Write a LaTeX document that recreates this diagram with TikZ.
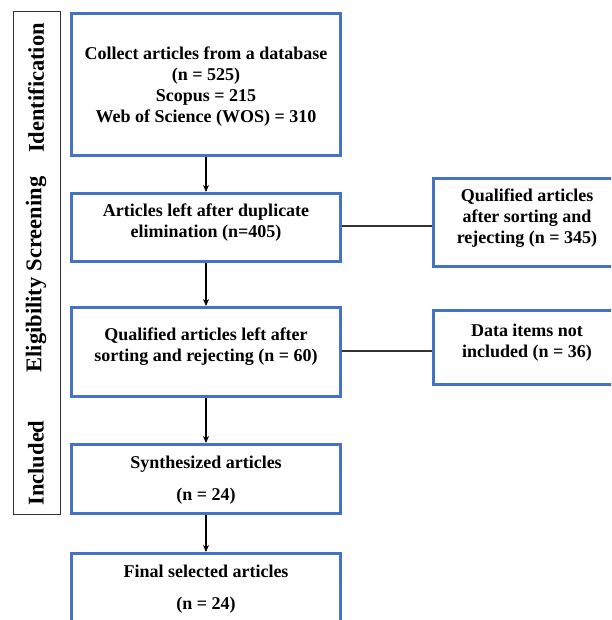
\documentclass[tikz,border=0pt]{standalone}
\usepackage{fontspec}
\setmainfont{Liberation Serif}
\usetikzlibrary{arrows.meta,calc}
\definecolor{boxblue}{HTML}{4472C4}
\begin{document}
\begin{tikzpicture}[x=1pt,y=-1pt,
  bluebox/.style={draw=boxblue,line width=3pt,fill=white,inner sep=0pt},
  boxtext/.style={align=center,inner sep=0pt,font=\fontsize{18}{21}\selectfont\bfseries},
  phasebox/.style={draw=black!80,line width=1.2pt,inner sep=0pt},
  phaselabel/.style={rotate=90,font=\fontsize{22.5}{26}\selectfont\bfseries,inner sep=0pt},
  flowarrow/.style={draw=black,line width=1.1pt,-{Stealth[length=7pt,width=6pt]}},
  joinline/.style={draw=black!80,line width=1.1pt}]
\useasboundingbox (0,0) rectangle (611,620);
\clip (0,0) rectangle (611,620);
\fill[white] (0,0) rectangle (611,620);
% phase column
\node[phasebox,minimum width=47pt,minimum height=503pt] (phase) at (37,263) {};
\node[phaselabel] (lid) at (36,88) {Identification};
\node[phaselabel] (lsc) at (36,224) {Screening};
\node[phaselabel] (lel) at (36,325) {Eligibility};
\node[phaselabel] (lin) at (36,463) {Included};
% main boxes
\node[bluebox,minimum width=269pt,minimum height=142pt,
  label={[boxtext,yshift=-2pt]center:{Collect articles from a database\\(n = 525)\\Scopus = 215\\Web of Science (WOS) = 310}}]
  (b1) at (206,84.5) {};
\node[bluebox,minimum width=269pt,minimum height=68pt,
  label={[boxtext,yshift=5pt]center:{Articles left after duplicate\\elimination (n=405)}}]
  (b2) at (206,227.5) {};
\node[bluebox,minimum width=269pt,minimum height=89pt,
  label={[boxtext,yshift=5pt]center:{Qualified articles left after\\sorting and rejecting (n = 60)}}]
  (b3) at (206,352) {};
\node[bluebox,minimum width=269pt,minimum height=69pt,
  label={[boxtext,yshift=-1pt]center:{Synthesized articles\\[11pt](n = 24)}}]
  (b4) at (206,479) {};
\node[bluebox,minimum width=269pt,minimum height=69pt,
  label={[boxtext,yshift=-1.5pt]center:{Final selected articles\\[11pt](n = 24)}}]
  (b5) at (206,588) {};
% side boxes
\node[bluebox,minimum width=187pt,minimum height=88pt,
  label={[boxtext,yshift=4.5pt]center:{Qualified articles\\after sorting and\\rejecting (n = 345)}}]
  (r1) at (527,222.5) {};
\node[bluebox,minimum width=187pt,minimum height=74pt,
  label={[boxtext,yshift=4.5pt]center:{Data items not\\included (n = 36)}}]
  (r2) at (527,347.5) {};
% connectors
\draw[flowarrow] (b1.south) -- (b2.north);
\draw[flowarrow] (b2.south) -- (b3.north);
\draw[flowarrow] (b3.south) -- (b4.north);
\draw[flowarrow] (b4.south) -- (b5.north);
\draw[joinline] ($(b2.east)+(0,-1.5)$) -- ($(b2.east -| r1.west)+(0,-1.5)$);
\draw[joinline] ($(b3.east)+(0,-1)$) -- ($(b3.east -| r2.west)+(0,-1)$);
\end{tikzpicture}
\end{document}
